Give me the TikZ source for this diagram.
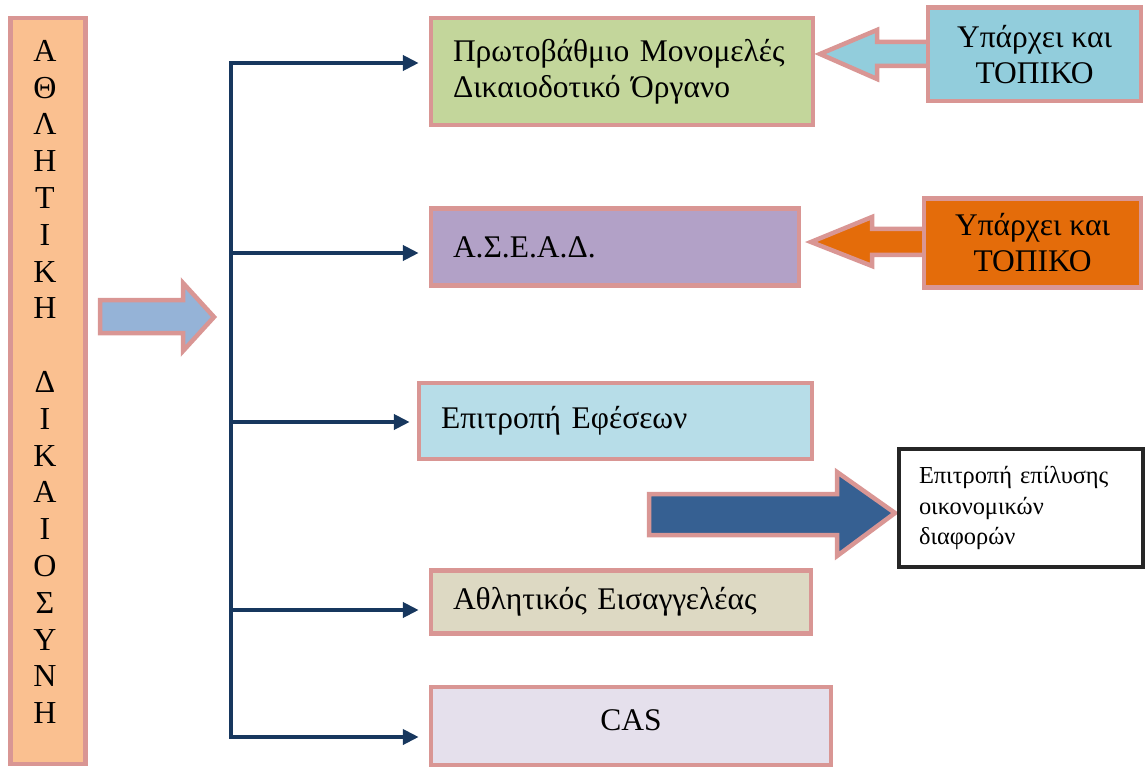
\documentclass[tikz,border=0pt]{standalone}
\usepackage{fontspec}
\setmainfont{Liberation Serif}
\usetikzlibrary{arrows.meta}
\definecolor{pinkB}{HTML}{D99694}
\definecolor{peach}{HTML}{FAC090}
\definecolor{ltarrow}{HTML}{95B3D7}
\definecolor{navy}{HTML}{17375E}
\definecolor{greenF}{HTML}{C3D69B}
\definecolor{purpleF}{HTML}{B2A1C7}
\definecolor{cyanF}{HTML}{92CDDC}
\definecolor{orangeF}{HTML}{E46C0A}
\definecolor{ltcyanF}{HTML}{B7DDE8}
\definecolor{dkblueF}{HTML}{366092}
\definecolor{beigeF}{HTML}{DDD9C3}
\definecolor{lavF}{HTML}{E5E0EC}
\begin{document}
\begin{tikzpicture}[x=1pt,y=-1pt,
  bigfont/.style={font=\fontsize{31.5}{36}\selectfont},
  boxA/.style={draw=pinkB, line width=4.5pt, inner ysep=0pt, bigfont},
  leftbox/.style={boxA, align=left, inner xsep=22pt},
  blockarrow/.style={draw=pinkB, line width=4.5pt, line join=miter},
  branch/.style={draw=navy, line width=4pt, -{Triangle[length=16pt,width=15pt]}},
  trunk/.style={draw=navy, line width=4pt, line cap=rect}
]
\useasboundingbox (0,0) rectangle (1145,767);

% left column
\node[draw=pinkB, fill=peach, line width=4.5pt, minimum width=75pt, minimum height=746pt, inner sep=0pt] (col) at (48,391) {};
\node[align=center, font=\fontsize{32}{36.8}\selectfont, inner sep=0pt] (colt) at (45,382)
 {Α\\Θ\\Λ\\Η\\Τ\\Ι\\Κ\\Η\\\mbox{}\\Δ\\Ι\\Κ\\Α\\Ι\\Ο\\Σ\\Υ\\Ν\\Η};

% small blue arrow
\draw[blockarrow, fill=ltarrow] (100,300) -- (183,300) -- (183,283) -- (214,317) -- (183,351) -- (183,333) -- (100,333) -- cycle;

% block arrows to right boxes
\draw[blockarrow, fill=cyanF] (820,54) -- (877,30) -- (877,42) -- (932,42) -- (932,66) -- (877,66) -- (877,79) -- cycle;
\draw[blockarrow, fill=orangeF] (811,242) -- (872,217) -- (872,229) -- (928,229) -- (928,255) -- (872,255) -- (872,266) -- cycle;
\draw[blockarrow, fill=dkblueF] (649,494) -- (837,494) -- (837,472) -- (895,513) -- (837,556) -- (837,535) -- (649,535) -- cycle;

% main boxes
\node[leftbox, fill=greenF, minimum width=382pt, minimum height=107pt, text width=338pt] (b1) at (622,71.5)
 {Πρωτοβάθμιο Μονομελές\\Δικαιοδοτικό Όργανο};
\node[leftbox, fill=purpleF, minimum width=368pt, minimum height=77pt, text width=324pt] (b2) at (615,247)
 {Α.Σ.Ε.Α.Δ.};
\node[leftbox, fill=ltcyanF, minimum width=393pt, minimum height=76pt, text width=349pt] (b3) at (615.5,421)
 {Επιτροπή Εφέσεων};
\node[leftbox, fill=beigeF, minimum width=380pt, minimum height=63pt, text width=336pt] (b4) at (621,602)
 {Αθλητικός Εισαγγελέας};
\node[boxA, fill=lavF, minimum width=400pt, minimum height=78pt, align=center] (b5) at (631,726) {};
\node[bigfont, inner sep=0pt] (b5t) at (631,720) {CAS};

% right boxes
\node[boxA, fill=cyanF, minimum width=213pt, minimum height=93.5pt, align=center] (r1) at (1034.5,54.5)
 {Υπάρχει και\\ΤΟΠΙΚΟ};
\node[boxA, fill=orangeF, minimum width=217pt, minimum height=89pt, align=center] (r2) at (1032.5,243)
 {Υπάρχει και\\ΤΟΠΙΚΟ};
\node[draw=black!85, line width=4pt, fill=white, minimum width=244pt, minimum height=118pt, text width=204pt, inner xsep=20pt, align=left, font=\fontsize{24.4}{30.5}\selectfont] (r3) at (1021,508)
 {Επιτροπή επίλυσης\\οικονομικών\\διαφορών};

% bracket
\coordinate (t1) at (231,63);
\coordinate (t2) at (231,253);
\coordinate (t3) at (231,422);
\coordinate (t4) at (231,610);
\coordinate (t5) at (231,737);
\draw[trunk] (t1) -- (t5);
\draw[branch, shorten >=10pt] (t1) -- (t1 -| b1.west);
\draw[branch, shorten >=10pt] (t2) -- (t2 -| b2.west);
\draw[branch, shorten >=7pt] (t3) -- (t3 -| b3.west);
\draw[branch, shorten >=10pt] (t4) -- (t4 -| b4.west);
\draw[branch, shorten >=10pt] (t5) -- (t5 -| b5.west);
\end{tikzpicture}
\end{document}
